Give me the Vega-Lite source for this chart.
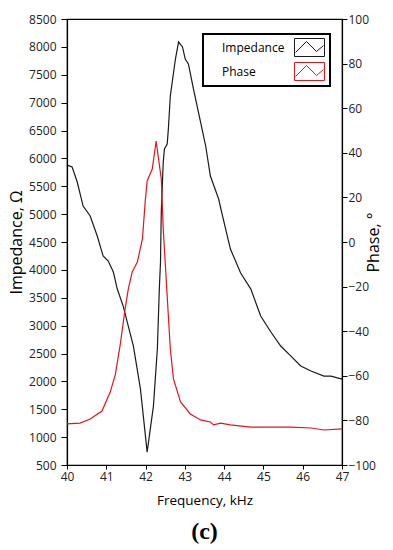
{
  "$schema": "https://vega.github.io/schema/vega-lite/v6.json",
  "width": 275,
  "height": 446,
  "padding": {"left": 8, "top": 13, "right": 5, "bottom": 5},
  "background": "white",
  "config": {
    "font": "Open Sans",
    "view": {"stroke": "black", "strokeWidth": 1.2},
    "axis": {
      "grid": false,
      "domainColor": "black",
      "domainWidth": 1.2,
      "tickColor": "black",
      "labelColor": "#222",
      "labelFontSize": 12,
      "titleColor": "black",
      "titleFontWeight": "normal"
    },
    "legend": {
      "orient": "none",
      "legendX": 136,
      "legendY": 15,
      "padding": 3,
      "rowPadding": 1,
      "strokeColor": "black",
      "fillColor": "white",
      "labelFontSize": 12,
      "labelColor": "black",
      "symbolSize": 400,
      "symbolStrokeWidth": 1,
      "symbolType": "M-1.5,-0.9H1.5V0.9H-1.5Z M-1.4,0.5L-0.3,-0.6L0.7,0.4L1.4,-0.2",
      "symbolOffset": 93,
      "labelOffset": -98
    }
  },
  "datasets": {
    "imp": [
      {"f": 40.00, "z": 5880}, {"f": 40.13, "z": 5845}, {"f": 40.26, "z": 5576}, {"f": 40.41, "z": 5145},
      {"f": 40.59, "z": 4966}, {"f": 40.77, "z": 4607}, {"f": 40.92, "z": 4248}, {"f": 41.05, "z": 4159},
      {"f": 41.18, "z": 3961}, {"f": 41.28, "z": 3656}, {"f": 41.43, "z": 3351}, {"f": 41.69, "z": 2634},
      {"f": 41.87, "z": 1862}, {"f": 42.04, "z": 732}, {"f": 42.20, "z": 1557}, {"f": 42.30, "z": 2580},
      {"f": 42.35, "z": 3656}, {"f": 42.38, "z": 4141}, {"f": 42.40, "z": 5038}, {"f": 42.45, "z": 5935},
      {"f": 42.48, "z": 6168}, {"f": 42.55, "z": 6258}, {"f": 42.58, "z": 6527}, {"f": 42.63, "z": 7119},
      {"f": 42.76, "z": 7782}, {"f": 42.84, "z": 8087}, {"f": 42.94, "z": 7998}, {"f": 43.01, "z": 7782},
      {"f": 43.09, "z": 7693}, {"f": 43.22, "z": 7244}, {"f": 43.40, "z": 6652}, {"f": 43.53, "z": 6222},
      {"f": 43.65, "z": 5683}, {"f": 43.86, "z": 5271}, {"f": 43.96, "z": 4966}, {"f": 44.16, "z": 4374},
      {"f": 44.42, "z": 3943}, {"f": 44.68, "z": 3656}, {"f": 44.93, "z": 3172}, {"f": 45.19, "z": 2885},
      {"f": 45.44, "z": 2634}, {"f": 45.70, "z": 2454}, {"f": 45.95, "z": 2275}, {"f": 46.21, "z": 2185},
      {"f": 46.54, "z": 2095}, {"f": 46.72, "z": 2095}, {"f": 47.00, "z": 2041}
    ],
    "phase": [
      {"f": 40.00, "p": -81.6}, {"f": 40.33, "p": -81.2}, {"f": 40.59, "p": -79.4}, {"f": 40.89, "p": -75.8},
      {"f": 41.10, "p": -67.3}, {"f": 41.23, "p": -59.5}, {"f": 41.35, "p": -46.6}, {"f": 41.48, "p": -30.0},
      {"f": 41.56, "p": -21.1}, {"f": 41.66, "p": -13.4}, {"f": 41.79, "p": -9.0}, {"f": 41.92, "p": 1.4},
      {"f": 41.99, "p": 17.9}, {"f": 42.04, "p": 27.4}, {"f": 42.17, "p": 32.7}, {"f": 42.27, "p": 45.3},
      {"f": 42.32, "p": 38.6}, {"f": 42.40, "p": 28.3}, {"f": 42.45, "p": 5.8}, {"f": 42.50, "p": -9.0},
      {"f": 42.55, "p": -24.2}, {"f": 42.63, "p": -48.0}, {"f": 42.71, "p": -61.4}, {"f": 42.89, "p": -71.7},
      {"f": 43.14, "p": -77.1}, {"f": 43.40, "p": -79.8}, {"f": 43.65, "p": -80.7}, {"f": 43.73, "p": -82.0},
      {"f": 43.91, "p": -81.2}, {"f": 44.16, "p": -82.0}, {"f": 44.68, "p": -83.0}, {"f": 45.70, "p": -83.0},
      {"f": 46.21, "p": -83.4}, {"f": 46.54, "p": -84.3}, {"f": 47.00, "p": -83.8}
    ]
  },
  "encoding": {
    "x": {
      "field": "f", "type": "quantitative",
      "scale": {"domain": [40, 47]},
      "axis": {"values": [40, 41, 42, 43, 44, 45, 46, 47], "format": "d", "title": "Frequency, kHz",
               "titleFontSize": 13.5, "tickSize": 4, "labelPadding": 2, "titlePadding": 11,
               "labelOverlap": false, "labelFlush": false}
    }
  },
  "layer": [
    {
      "data": {"name": "imp"},
      "mark": {"type": "line", "strokeWidth": 1.2},
      "encoding": {
        "y": {
          "field": "z", "type": "quantitative",
          "scale": {"domain": [500, 8500]},
          "axis": {"orient": "left", "title": "Impedance, Ω", "titleFontSize": 16,
                   "values": [500, 1000, 1500, 2000, 2500, 3000, 3500, 4000, 4500, 5000, 5500, 6000, 6500, 7000, 7500, 8000, 8500],
                   "format": "d", "labelOverlap": false, "tickSize": 6, "labelPadding": 5, "titlePadding": 4}
        },
        "color": {
          "datum": "Impedance",
          "scale": {"domain": ["Impedance", "Phase"], "range": ["#1a1a1a", "#e3141e"]},
          "legend": {"title": null, "encode": {"legend": {"update": {"strokeWidth": {"value": 2}}}}}
        }
      }
    },
    {
      "data": {"name": "phase"},
      "mark": {"type": "line", "strokeWidth": 1.2},
      "encoding": {
        "y": {
          "field": "p", "type": "quantitative",
          "scale": {"domain": [-100, 100]},
          "axis": {"orient": "right", "title": "Phase, °", "titleFontSize": 16, "titleAngle": -90,
                   "values": [-100, -80, -60, -40, -20, 0, 20, 40, 60, 80, 100], "format": "d",
                   "labelOverlap": false, "tickSize": 5, "labelPadding": 1, "titlePadding": 6}
        },
        "color": {"datum": "Phase"}
      }
    }
  ],
  "resolve": {"scale": {"y": "independent"}},
  "title": {"text": "(c)", "orient": "bottom", "font": "Liberation Serif", "fontWeight": "bold", "fontSize": 24, "offset": 13, "color": "black"}
}
